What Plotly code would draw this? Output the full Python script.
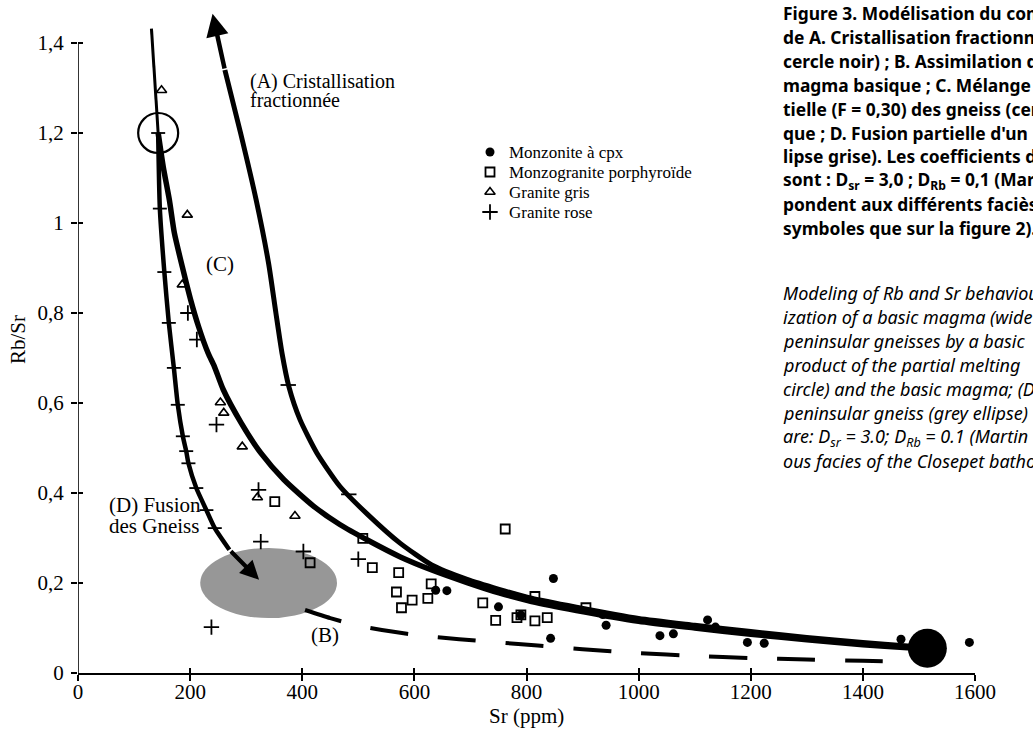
import plotly.graph_objects as go

# ---------------- data ----------------
XTICKS = [0, 200, 400, 600, 800, 1000, 1200, 1400, 1600]
XTICK_TEXT = ["0", "200", "400", "600", "800", "1000", "1200", "1400", "1600"]
YTICKS = [0, 0.2, 0.4, 0.6, 0.8, 1.0, 1.2, 1.4]
YTICK_TEXT = ["0", "0,2", "0,4", "0,6", "0,8", "1", "1,2", "1,4"]

SERIES_NAMES = ["Monzonite à cpx", "Monzogranite porphyroïde", "Granite gris", "Granite rose"]

# Monzonite à cpx (filled circles)
MONZ_SR = [638, 658, 750, 790, 843, 848, 936, 942, 1038, 1062, 1123, 1137, 1194, 1224, 1468, 1590]
MONZ_RB = [0.184, 0.183, 0.147, 0.129, 0.077, 0.210, 0.130, 0.106, 0.083, 0.087, 0.118, 0.102, 0.068, 0.066, 0.075, 0.068]

# Monzogranite porphyroïde (open squares)
MZG_SR = [351, 414, 508, 525, 572, 568, 577, 596, 624, 630, 722, 745, 762, 783, 790, 815, 815, 837, 906]
MZG_RB = [0.381, 0.245, 0.299, 0.234, 0.223, 0.180, 0.145, 0.162, 0.166, 0.198, 0.156, 0.117, 0.320, 0.123, 0.129, 0.170, 0.116, 0.123, 0.145]

# Granite gris (open triangles)
GG_SR = [149, 195, 186, 254, 260, 293, 320, 387]
GG_RB = [1.295, 1.018, 0.863, 0.601, 0.578, 0.503, 0.390, 0.349]

# Granite rose (plus)
GR_SR = [196, 212, 247, 322, 326, 402, 500, 238]
GR_RB = [0.800, 0.741, 0.552, 0.407, 0.292, 0.270, 0.253, 0.102]

# (A) fractional crystallisation, from the basic magma upwards
A_SR = [1515, 1480, 1400, 1300, 1200, 1100, 1000, 889, 809, 751, 694, 631, 575, 517, 467, 426, 396, 376, 364, 353, 340, 318, 290, 262, 240]
A_RB = [0.057, 0.060, 0.068, 0.079, 0.092, 0.106, 0.121, 0.146, 0.166, 0.186, 0.208, 0.240, 0.288, 0.352, 0.415, 0.489, 0.563, 0.637, 0.710, 0.800, 0.910, 1.050, 1.200, 1.340, 1.465]
A_TICK_SR = [375, 483]
A_TICK_RB = [0.640, 0.397]

# (B) assimilation (dashed)
B_SR = [405, 450, 500, 560, 613, 680, 750, 820, 900, 1000, 1100, 1200, 1300, 1400, 1480]
B_RB = [0.140, 0.122, 0.105, 0.092, 0.083, 0.075, 0.068, 0.061, 0.053, 0.044, 0.038, 0.033, 0.030, 0.027, 0.025]

# (C) mixing between gneiss melt and basic magma
C_SR = [143, 152, 163, 172, 186, 201, 215, 232, 243, 259, 291, 326, 367, 420, 467, 517, 575, 631, 694, 751, 809, 889, 1000, 1100, 1200, 1300, 1400, 1480, 1515]
C_RB = [1.200, 1.125, 1.051, 0.977, 0.903, 0.829, 0.770, 0.711, 0.682, 0.630, 0.556, 0.489, 0.430, 0.371, 0.330, 0.295, 0.258, 0.229, 0.201, 0.178, 0.159, 0.139, 0.115, 0.100, 0.086, 0.074, 0.063, 0.056, 0.053]

# (D) partial melting of the gneiss
D_SR = [131, 143, 146, 154, 162, 171, 178, 187, 193, 197, 211, 229, 244, 270, 323]
D_RB = [1.432, 1.200, 1.032, 0.891, 0.778, 0.678, 0.596, 0.526, 0.493, 0.466, 0.411, 0.362, 0.322, 0.274, 0.207]

GNEISS_MELT = (143, 1.20)      # open circle
BASIC_MAGMA = (1515, 0.055)    # large black dot
ELLIPSE_CENTER = (340, 0.200)  # grey ellipse (peninsular gneiss)
ELLIPSE_HALF = (122, 0.078)

CAPTION_FR = [
    "Figure 3. Modélisation du comportement",
    "de A. Cristallisation fractionnée",
    "cercle noir) ; B. Assimilation des",
    "magma basique ; C. Mélange de",
    "tielle (F = 0,30) des gneiss (cercle",
    "que ; D. Fusion partielle d'un",
    "lipse grise). Les coefficients de",
    "sont : D<sub>sr</sub> = 3,0 ; D<sub>Rb</sub> = 0,1 (Martin",
    "pondent aux différents faciès du",
    "symboles que sur la figure 2).",
]
CAPTION_EN = [
    "Modeling of Rb and Sr behaviour",
    "ization of a basic magma (wide",
    "peninsular gneisses by a basic",
    "product of the partial melting",
    "circle) and the basic magma; (D)",
    "peninsular gneiss (grey ellipse)",
    "are: D<sub>sr</sub> = 3.0; D<sub>Rb</sub> = 0.1 (Martin",
    "ous facies of the Closepet batholith",
]

# ---------------- layout geometry ----------------
W, H = 1033, 733
ML, MR, MT, MB = 78, 58, 8, 60
PW, PH = W - ML - MR, H - MT - MB
YMAX = PH / 450.0

def px_x(px):   # window pixel -> paper fraction
    return (px - ML) / PW

def px_y(py):
    return (H - MB - py) / PH

SERIF = "Liberation Serif"
SANS = "Noto Sans"
BLACK = "black"

fig = go.Figure()

# grey ellipse
ex, ey = ELLIPSE_CENTER
rx, ry = ELLIPSE_HALF
fig.add_shape(type="circle", xref="x", yref="y", x0=ex - rx, x1=ex + rx,
              y0=ey - ry, y1=ey + ry, fillcolor="#979797",
              line=dict(width=0), layer="below")

# y axis line (only up to the last tick)
fig.add_shape(type="line", xref="x", yref="y", x0=XTICKS[0], x1=XTICKS[0],
              y0=min(YTICKS), y1=max(YTICKS), line=dict(color=BLACK, width=1.6))

# model curves
fig.add_trace(go.Scatter(x=B_SR, y=B_RB, mode="lines", line=dict(color=BLACK, width=4, dash="38px,30px", shape="spline", smoothing=0.6)))
fig.add_trace(go.Scatter(x=D_SR[:2], y=D_RB[:2], mode="lines", line=dict(color=BLACK, width=3)))
fig.add_trace(go.Scatter(x=D_SR[1:-1], y=D_RB[1:-1], mode="lines", line=dict(color=BLACK, width=4.5, shape="spline", smoothing=0.6)))
fig.add_trace(go.Scatter(x=D_SR[1:-2], y=D_RB[1:-2], mode="markers",
                         marker=dict(symbol="line-ew-open", size=10, color=BLACK, line=dict(color=BLACK, width=1.8))))
fig.add_trace(go.Scatter(x=C_SR, y=C_RB, mode="lines", line=dict(color=BLACK, width=5.5, shape="spline", smoothing=0.6)))
fig.add_trace(go.Scatter(x=A_SR[:-1], y=A_RB[:-1], mode="lines", line=dict(color=BLACK, width=5, shape="spline", smoothing=0.6)))
fig.add_trace(go.Scatter(x=A_TICK_SR, y=A_TICK_RB, mode="markers",
                         marker=dict(symbol="line-ew-open", size=11, color=BLACK, line=dict(color=BLACK, width=1.8))))

# arrowheads
fig.add_annotation(x=A_SR[-1], y=A_RB[-1], ax=A_SR[-2], ay=A_RB[-2], xref="x", yref="y",
                   axref="x", ayref="y", text="", showarrow=True, arrowhead=2,
                   arrowsize=1.0, arrowwidth=4.5, arrowcolor=BLACK)
fig.add_annotation(x=D_SR[-1], y=D_RB[-1], ax=D_SR[-2], ay=D_RB[-2], xref="x", yref="y",
                   axref="x", ayref="y", text="", showarrow=True, arrowhead=2,
                   arrowsize=0.9, arrowwidth=4.2, arrowcolor=BLACK)

# sample data
MARKERS = [
    (MONZ_SR, MONZ_RB, dict(symbol="circle", size=9, color=BLACK)),
    (MZG_SR, MZG_RB, dict(symbol="square-open", size=9, color=BLACK, line=dict(width=1.8, color=BLACK))),
    (GG_SR, GG_RB, dict(symbol="triangle-up-open", size=9, color=BLACK, line=dict(width=1.6, color=BLACK))),
    (GR_SR, GR_RB, dict(symbol="cross-thin-open", size=11, color=BLACK, line=dict(width=1.8, color=BLACK))),
]
for (xs, ys, mk), name in zip(MARKERS, SERIES_NAMES):
    fig.add_trace(go.Scatter(x=xs, y=ys, mode="markers", name=name, marker=mk, cliponaxis=False))

# end members
fig.add_trace(go.Scatter(x=[GNEISS_MELT[0]], y=[GNEISS_MELT[1]], mode="markers",
                         marker=dict(symbol="circle-open", size=40, color=BLACK, line=dict(width=2.2, color=BLACK))))
fig.add_trace(go.Scatter(x=[BASIC_MAGMA[0]], y=[BASIC_MAGMA[1]], mode="markers",
                         marker=dict(symbol="circle", size=39, color=BLACK), cliponaxis=False))

# crossing ticks: overlay axes with inside ticks
fig.add_trace(go.Scatter(x=[], y=[], xaxis="x2", yaxis="y"))
fig.add_trace(go.Scatter(x=[], y=[], xaxis="x", yaxis="y2"))

# hand-made legend (tighter line spacing than plotly's legend)
LEG_MARK_PX = 490
LEG_TEXT_PX = 507
LEG_Y0_PX = 152
LEG_STEP_PX = 20
for i, ((xs, ys, mk), name) in enumerate(zip(MARKERS, SERIES_NAMES)):
    yy = px_y(LEG_Y0_PX + i * LEG_STEP_PX)
    fig.add_trace(go.Scatter(x=[px_x(LEG_MARK_PX)], y=[yy], xaxis="x3", yaxis="y3",
                             mode="markers", marker=mk, cliponaxis=False))
    fig.add_annotation(x=px_x(LEG_TEXT_PX), y=yy, xref="paper", yref="paper", text=name,
                       showarrow=False, xanchor="left", yanchor="middle",
                       font=dict(family=SERIF, size=17, color=BLACK))

# curve labels
LABELS = [
    ("(A) Cristallisation", 303, 1.315, "left", 20),
    ("fractionnée", 303, 1.273, "left", 20),
    ("(C)", 253, 0.910, "center", 21),
    ("(D) Fusion", 52, 0.374, "left", 21),
    ("des Gneiss", 52, 0.327, "left", 21),
    ("(B)", 441, 0.084, "center", 21),
]
for txt, xx, yy, anc, fs in LABELS:
    fig.add_annotation(x=xx, y=yy, xref="x", yref="y", text=txt, showarrow=False,
                       xanchor=anc, yanchor="middle", font=dict(family=SERIF, size=fs, color=BLACK))

# axis titles
fig.add_annotation(x=px_x(18), y=px_y(340), xref="paper", yref="paper", text="Rb/Sr",
                   textangle=-90, showarrow=False, xanchor="center", yanchor="middle",
                   font=dict(family=SERIF, size=21, color=BLACK))
fig.add_annotation(x=0.5, y=px_y(716), xref="paper", yref="paper", text="Sr (ppm)",
                   showarrow=False, xanchor="center", yanchor="middle",
                   font=dict(family=SERIF, size=21, color=BLACK))

# caption (cut at the right edge like the scanned page)
CAP_X_PX = 781
for i, line in enumerate(CAPTION_FR):
    fig.add_annotation(x=px_x(CAP_X_PX), y=px_y(13 + i * 23.9), xref="paper", yref="paper",
                       text=line, showarrow=False, xanchor="left", yanchor="middle",
                       font=dict(family=SANS, size=17.4, color=BLACK, weight="bold"))
for i, line in enumerate(CAPTION_EN):
    fig.add_annotation(x=px_x(CAP_X_PX), y=px_y(293 + i * 24), xref="paper", yref="paper",
                       text=line, showarrow=False, xanchor="left", yanchor="middle",
                       font=dict(family=SANS, size=18, color=BLACK, style="italic"))

axis_common = dict(showgrid=False, zeroline=False, tickcolor=BLACK, tickwidth=1.6)
fig.update_layout(
    width=W, height=H, autosize=False,
    margin=dict(l=ML, r=MR, t=MT, b=MB, pad=0),
    paper_bgcolor="white", plot_bgcolor="white",
    showlegend=False,
    xaxis=dict(range=[XTICKS[0], XTICKS[-1]], tickvals=XTICKS, ticktext=XTICK_TEXT,
               ticks="outside", ticklen=6, showline=True, linecolor=BLACK, linewidth=1.6,
               ticklabelstandoff=-7,
               tickfont=dict(family=SERIF, size=21, color=BLACK), **axis_common),
    yaxis=dict(range=[0, YMAX], tickvals=YTICKS, ticktext=YTICK_TEXT,
               ticks="outside", ticklen=6, showline=False, ticklabelstandoff=3,
               tickfont=dict(family=SERIF, size=21, color=BLACK), **axis_common),
    xaxis2=dict(overlaying="x", anchor="y", side="bottom", range=[XTICKS[0], XTICKS[-1]],
                tickvals=XTICKS, ticks="inside", ticklen=5, showticklabels=False,
                showline=False, **axis_common),
    yaxis2=dict(overlaying="y", anchor="x", side="left", range=[0, YMAX],
                tickvals=YTICKS, ticks="inside", ticklen=5, showticklabels=False,
                showline=False, **axis_common),
    xaxis3=dict(overlaying="x", anchor="y3", range=[0, 1], visible=False),
    yaxis3=dict(overlaying="y", anchor="x3", range=[0, 1], visible=False),
)

# remove the browser's default 8 px body margin so the figure fills the window exactly
fig.write_html("out.html", config={"displayModeBar": False},
               post_script="document.body.style.margin='0';document.body.style.overflow='hidden';")
